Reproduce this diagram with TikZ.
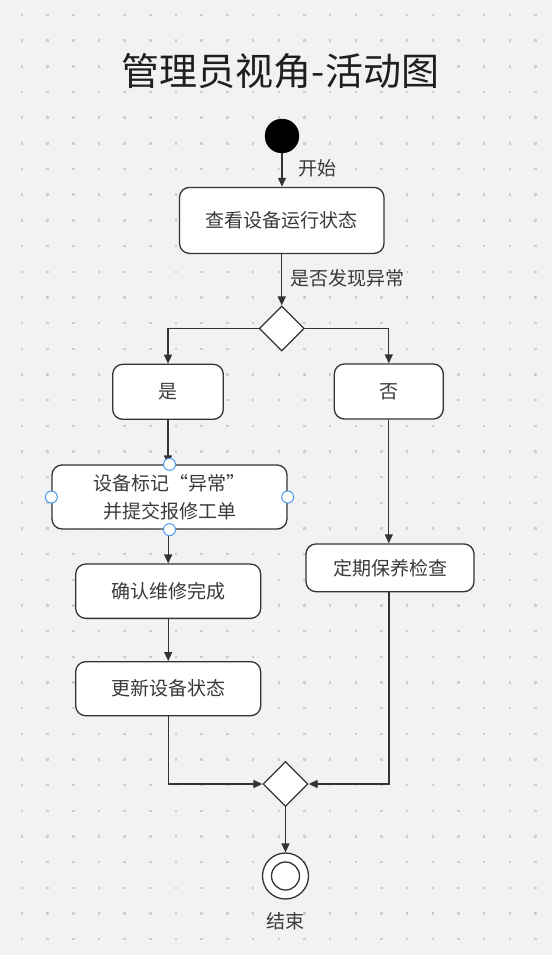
\documentclass[tikz,border=0pt]{standalone}
\usepackage{fontspec}
\newfontfamily\cjk{Noto Sans CJK SC}
\usetikzlibrary{arrows.meta,shapes.geometric}
\definecolor{bgc}{HTML}{F2F2F4}
\definecolor{dotc}{HTML}{CDCDD1}
\definecolor{linec}{HTML}{333333}
\definecolor{txtc}{HTML}{3A3A3A}
\definecolor{handlec}{HTML}{4A9BF0}
\tikzset{
  base/.style={font=\cjk\fontsize{19}{28}\selectfont, text=txtc},
  actbox/.style={base, draw=linec, line width=1.3pt, fill=white, rounded corners=10pt, inner sep=0pt, align=center},
  decis/.style={diamond, draw=linec, line width=1.3pt, fill=white, minimum width=45pt, minimum height=45pt, inner sep=0pt},
  lbl/.style={base, fill=bgc, inner sep=1.5pt},
  conn/.style={draw=linec, line width=1.3pt, -{Triangle[length=9pt,width=8pt]}},
  plain/.style={draw=linec, line width=1.3pt},
  handle/.style={circle, draw=handlec, line width=1pt, fill=white, minimum size=12pt, inner sep=0pt},
}
\begin{document}
\begin{tikzpicture}[x=1pt,y=-1pt]
\fill[bgc] (0,0) rectangle (552,955);
\useasboundingbox (0,0) rectangle (552,955);
\foreach \i in {0,...,20}{
  \foreach \j in {0,...,36}{
    \fill[dotc] ({22+25.67*\i-1.2},{15+25.67*\j-1.2}) rectangle ++(2.4,2.4);
  }
}
% title
\node[font=\cjk\fontsize{38}{38}\selectfont, text=black!88, fill=bgc, inner sep=2pt] (title) at (280.5,71) {管理员视角-活动图};
% start
\node[circle, fill=black, draw=black, minimum size=34pt, inner sep=0pt] (start) at (282,136) {};
% boxes
\node[actbox, minimum width=204.5pt, minimum height=66pt] (b1) at (281.75,220.4) {查看设备运行状态};
\node[decis] (d1) at (281.7,328.5) {};
\node[actbox, minimum width=110.6pt, minimum height=55pt] (yes) at (168,391.8) {是};
\node[actbox, minimum width=109pt, minimum height=55pt] (no) at (388.8,391.5) {否};
\node[actbox, minimum width=235pt, minimum height=64pt] (mark) at (169.5,497) {设备标记“异常”\\并提交报修工单};
\node[actbox, minimum width=185pt, minimum height=54.3pt] (confirm) at (168.2,591.2) {确认维修完成};
\node[actbox, minimum width=185pt, minimum height=54pt] (update) at (168.2,688.7) {更新设备状态};
\node[actbox, minimum width=168pt, minimum height=47.7pt] (maint) at (390,567.8) {定期保养检查};
\node[decis] (d2) at (285.5,784) {};
% end
\node[circle, draw=linec, line width=1.3pt, fill=white, minimum size=46pt, inner sep=0pt] (end) at (285.5,876) {};
\node[circle, draw=linec, line width=1.3pt, fill=white, minimum size=28pt, inner sep=0pt] (endin) at (285.5,876) {};
% connectors
\draw[conn] (start.south) -- (start.south |- b1.north);
\node[lbl] (l1) at (317.5,168) {开始};
\draw[conn] (b1.south) -- (b1.south |- d1.north);
\node[lbl] (l2) at (347.5,278) {是否发现异常};
\draw[conn] (d1.west) -| (yes.north);
\draw[conn] (d1.east) -| (no.north);
\draw[conn] (yes.south) -- (yes.south |- mark.north);
\draw[conn] (confirm.north |- mark.south) -- (confirm.north);
\draw[conn] (confirm.south) -- (update.north);
\draw[conn] (no.south) -- (no.south |- maint.north);
\draw[conn] (update.south) |- (d2.west);
\draw[conn] ([xshift=-1pt]maint.south) |- (d2.east);
\draw[conn] (d2.south) -- (end.north);
\node[base] (l3) at (285.5,921) {结束};
% selection handles
\node[handle] (h1) at (mark.north) {};
\node[handle] (h2) at (mark.south) {};
\node[handle] (h3) at (mark.west) {};
\node[handle] (h4) at (mark.east) {};
\end{tikzpicture}
\end{document}
